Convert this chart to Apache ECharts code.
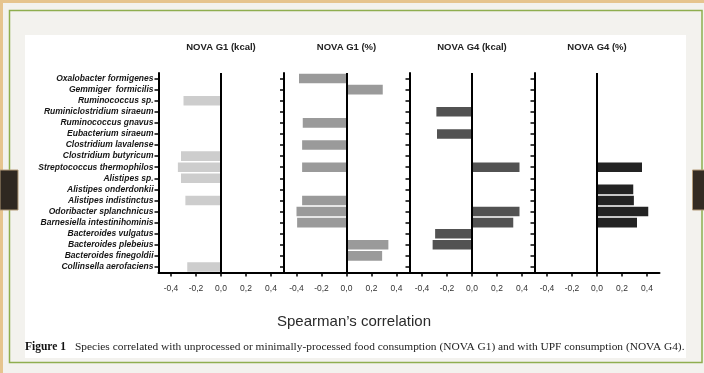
<!DOCTYPE html>
<html><head><meta charset="utf-8">
<script src="https://cdn.jsdelivr.net/npm/echarts@6/dist/echarts.min.js"></script>
<style>html,body{margin:0;padding:0;background:#f3f2ee}#c{width:704px;height:373px}</style>
</head><body><div id="c"></div>
<script>
// ---- data ----
const species = [
  'Oxalobacter formigenes', 'Gemmiger  formicilis', 'Ruminococcus sp.', 'Ruminiclostridium siraeum',
  'Ruminococcus gnavus', 'Eubacterium siraeum', 'Clostridium lavalense', 'Clostridium butyricum',
  'Streptococcus thermophilos', 'Alistipes sp.', 'Alistipes onderdonkii', 'Alistipes indistinctus',
  'Odoribacter splanchnicus', 'Barnesiella intestinihominis', 'Bacteroides vulgatus',
  'Bacteroides plebeius', 'Bacteroides finegoldii', 'Collinsella aerofaciens'
];
const panelTitles = ['NOVA G1 (kcal)', 'NOVA G1 (%)', 'NOVA G4 (kcal)', 'NOVA G4 (%)'];
const g1Kcal = [null, null, -0.30, null, null, null, null, -0.32, -0.345, -0.32, null, -0.285, null, null, null, null, null, -0.27];
const g1Pct  = [-0.38, 0.29, null, null, -0.35, null, -0.355, null, -0.355, null, null, -0.355, -0.40, -0.395, null, 0.335, 0.285, null];
const g4Kcal = [null, null, null, -0.285, null, -0.28, null, null, 0.38, null, null, null, 0.38, 0.33, -0.295, -0.315, null, null];
const g4Pct  = [null, null, null, null, null, null, null, null, 0.36, null, 0.29, 0.295, 0.41, 0.32, null, null, null, null];
const xTickValues = [-0.4, -0.2, 0, 0.2, 0.4];
const xAxisTitle = 'Spearman\u2019s correlation';
const captionBold = 'Figure 1';
const captionText = 'Species correlated with unprocessed or minimally-processed food consumption (NOVA G1) and with UPF consumption (NOVA G4).';

// ---- layout / style ----
const panelValues = [g1Kcal, g1Pct, g4Kcal, g4Pct];
const panelColors = ['#cdcdcd', '#9a9a9a', '#525252', '#232323'];
const panelLefts = [158.5, 284, 409.5, 534.5];
const panelWidth = 125;
const gridTop = 73, gridHeight = 199.5;

const fmt = v => (Math.abs(v) < 1e-9 ? '0,0' : v.toFixed(1).replace('.', ','));

const grids = [], xAxes = [], yAxes = [], series = [], texts = [];
panelValues.forEach((vals, k) => {
  grids.push({left: panelLefts[k], width: panelWidth, top: gridTop, height: gridHeight, containLabel: false});
  xAxes.push({
    type: 'value', gridIndex: k, min: -0.5, max: 0.5,
    axisLine: {show: true, lineStyle: {color: '#000', width: 2}},
    splitLine: {show: false},
    axisTick: {show: true, customValues: xTickValues, length: 4, lineStyle: {color: '#000', width: 1.5}},
    axisLabel: {show: true, customValues: xTickValues, formatter: fmt, fontSize: 8.5,
      fontFamily: 'Liberation Sans, Arial, sans-serif', color: '#333', margin: 11.5}
  });
  yAxes.push({
    type: 'category', gridIndex: k, data: species, inverse: true,
    axisLine: {show: true, onZero: false, lineStyle: {color: '#000', width: 2}},
    axisTick: {show: true, alignWithLabel: true, interval: 0, length: 4, lineStyle: {color: '#000', width: 1.5}},
    axisLabel: {show: k === 0, interval: 0, fontSize: 8.5, fontStyle: 'italic', fontWeight: 'bold',
      fontFamily: 'Liberation Sans, Arial, sans-serif', color: '#151515', margin: 5},
    splitLine: {show: false}
  });
  series.push({
    type: 'bar', xAxisIndex: k, yAxisIndex: k,
    data: vals.map(v => (v === null ? '-' : v)),
    barWidth: 9.6,
    itemStyle: {color: panelColors[k]},
    silent: true,
    markLine: {
      silent: true, symbol: ['none', 'none'], label: {show: false},
      lineStyle: {color: '#000', width: 2, type: 'solid'},
      data: [{xAxis: 0}]
    }
  });
  texts.push({
    type: 'text', x: panelLefts[k] + panelWidth / 2, y: 47,
    style: {text: panelTitles[k], fill: '#222', align: 'center', verticalAlign: 'middle',
      font: 'bold 9.5px "Liberation Sans", Arial, sans-serif'}
  });
});

const graphic = [
  // page decorations
  {type: 'rect', z: -20, shape: {x: 0, y: 0, width: 704, height: 3}, style: {fill: '#e6c48e'}},
  {type: 'rect', z: -20, shape: {x: 0, y: 0, width: 3, height: 373}, style: {fill: '#e6c48e'}},
  {type: 'rect', z: -19, shape: {x: 9.5, y: 10.5, width: 692.5, height: 352}, style: {fill: 'none', stroke: '#8fae4f', lineWidth: 1.5}},
  {type: 'rect', z: -18, shape: {x: 25, y: 35, width: 661, height: 323}, style: {fill: '#ffffff'}},
  {type: 'rect', z: -17, shape: {x: 0, y: 170, width: 18, height: 40}, style: {fill: '#2f2821', stroke: '#b39a78', lineWidth: 1}},
  {type: 'rect', z: -17, shape: {x: 692.5, y: 170, width: 12, height: 40}, style: {fill: '#342b23', stroke: '#b39a78', lineWidth: 1}},
  // axis title and caption
  {type: 'text', x: 354, y: 322, style: {text: xAxisTitle, fill: '#2a2a2a', align: 'center', verticalAlign: 'middle',
    font: '15px "Liberation Sans", Arial, sans-serif'}},
  {type: 'text', x: 25, y: 347, style: {text: captionBold, fill: '#111', align: 'left', verticalAlign: 'middle',
    font: 'bold 11.5px "Liberation Serif", "Times New Roman", serif'}},
  {type: 'text', x: 75, y: 347, style: {text: captionText, fill: '#222', align: 'left', verticalAlign: 'middle',
    font: '11.4px "Liberation Serif", "Times New Roman", serif'}}
].concat(texts);

const chart = echarts.init(document.getElementById('c'), null, {renderer: 'canvas'});
chart.setOption({
  backgroundColor: '#f3f2ee',
  animation: false,
  grid: grids, xAxis: xAxes, yAxis: yAxes, series: series,
  graphic: graphic
});
</script></body></html>
